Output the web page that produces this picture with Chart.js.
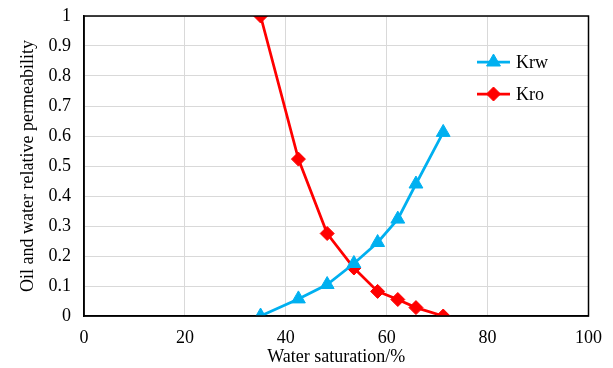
<!DOCTYPE html>
<html>
<head>
<meta charset="utf-8">
<script src="https://cdn.jsdelivr.net/npm/chart.js@4.4.1/dist/chart.umd.min.js"></script>
<style>
  html, body { margin: 0; padding: 0; background: #fff; }
  #wrap { width: 613px; height: 368px; }
</style>
</head>
<body>
<div id="wrap"><canvas id="permChart" width="613" height="368"></canvas></div>
<script>
// Water saturation (%) and relative permeability curves
const swValues = [35, 42.5, 48.2, 53.5, 58.2, 62.2, 65.8, 71.2];
const krwValues = [0, 0.057, 0.105, 0.175, 0.245, 0.323, 0.44, 0.612];
const kroValues = [1, 0.523, 0.275, 0.16, 0.082, 0.055, 0.028, 0];
const seriesNames = ['Krw', 'Kro'];

const FONT = "'Liberation Serif', 'Times New Roman', serif";
const BLUE = '#00b0f0';
const RED = '#ff0000';

function toPoints(ys) {
    return swValues.map((x, i) => ({ x: x, y: ys[i] }));
}

// Black frame around the plot area (top and right sides too)
const frameBox = {
    id: 'frameBox',
    afterDraw(chart) {
        const a = chart.chartArea;
        const ctx = chart.ctx;
        ctx.save();
        ctx.strokeStyle = '#000';
        ctx.lineWidth = 1.5;
        ctx.strokeRect(a.left, a.top, a.right - a.left, a.bottom - a.top);
        ctx.restore();
    }
};

// Legend drawn inside the plot, stacked vertically at the right
const insideLegend = {
    id: 'insideLegend',
    afterDraw(chart) {
        const ctx = chart.ctx;
        const x0 = 477, x1 = 510, y0 = 62, gap = 32;
        chart.data.datasets.forEach((ds, i) => {
            const y = y0 + i * gap;
            ctx.save();
            ctx.strokeStyle = ds.borderColor;
            ctx.lineWidth = ds.borderWidth;
            ctx.beginPath();
            ctx.moveTo(x0, y);
            ctx.lineTo(x1, y);
            ctx.stroke();
            ctx.fillStyle = ds.pointBackgroundColor;
            ctx.strokeStyle = ds.pointBorderColor;
            ctx.lineWidth = 1;
            Chart.helpers.drawPoint(ctx, {
                pointStyle: ds.pointStyle,
                rotation: 0,
                radius: ds.pointRadius,
                borderWidth: 1
            }, (x0 + x1) / 2, y);
            ctx.fillStyle = '#000';
            ctx.font = '18px ' + FONT;
            ctx.textBaseline = 'middle';
            ctx.fillText(ds.label, x1 + 6, y + 1);
            ctx.restore();
        });
    }
};

function makeDataset(label, ys, color, style, radius) {
    return {
        label: label,
        data: toPoints(ys),
        borderColor: color,
        backgroundColor: color,
        pointBackgroundColor: color,
        pointBorderColor: color,
        borderWidth: 2.75,
        pointStyle: style,
        pointRadius: radius,
        pointHoverRadius: radius,
        pointBorderWidth: 1,
        showLine: true,
        tension: 0
    };
}

new Chart(document.getElementById('permChart'), {
    type: 'scatter',
    data: {
        datasets: [
            makeDataset(seriesNames[0], krwValues, BLUE, 'triangle', 8),
            makeDataset(seriesNames[1], kroValues, RED, 'rectRot', 7)
        ]
    },
    options: {
        responsive: false,
        animation: false,
        layout: { padding: { top: 16, right: 24, left: 0, bottom: 0 } },
        plugins: {
            legend: { display: false },
            tooltip: { enabled: false }
        },
        scales: {
            x: {
                type: 'linear',
                min: 0,
                max: 100,
                afterFit(scale) { scale.height = 52; },
                ticks: {
                    stepSize: 20,
                    color: '#000',
                    padding: 11,
                    maxRotation: 0,
                    font: { family: FONT, size: 18 }
                },
                grid: { color: '#d9d9d9', lineWidth: 1, drawTicks: false },
                border: { color: '#000', width: 1.5 },
                title: {
                    display: true,
                    text: 'Water saturation/%',
                    color: '#000',
                    padding: { top: 0, bottom: 0 },
                    font: { family: FONT, size: 18 }
                }
            },
            y: {
                min: 0,
                max: 1,
                afterFit(scale) {
                    scale.width = 84;
                    scale.paddingTop = 0;
                    scale.paddingBottom = 0;
                },
                ticks: {
                    stepSize: 0.1,
                    color: '#000',
                    padding: 13,
                    font: { family: FONT, size: 18 },
                    callback: (v) => String(Math.round(v * 10) / 10)
                },
                grid: { color: '#d9d9d9', lineWidth: 1, drawTicks: false },
                border: { color: '#000', width: 1.5 },
                title: {
                    display: true,
                    text: 'Oil and water relative permeability',
                    color: '#000',
                    padding: { top: 17, bottom: 4 },
                    font: { family: FONT, size: 18 }
                }
            }
        }
    },
    plugins: [frameBox, insideLegend]
});
</script>
</body>
</html>
